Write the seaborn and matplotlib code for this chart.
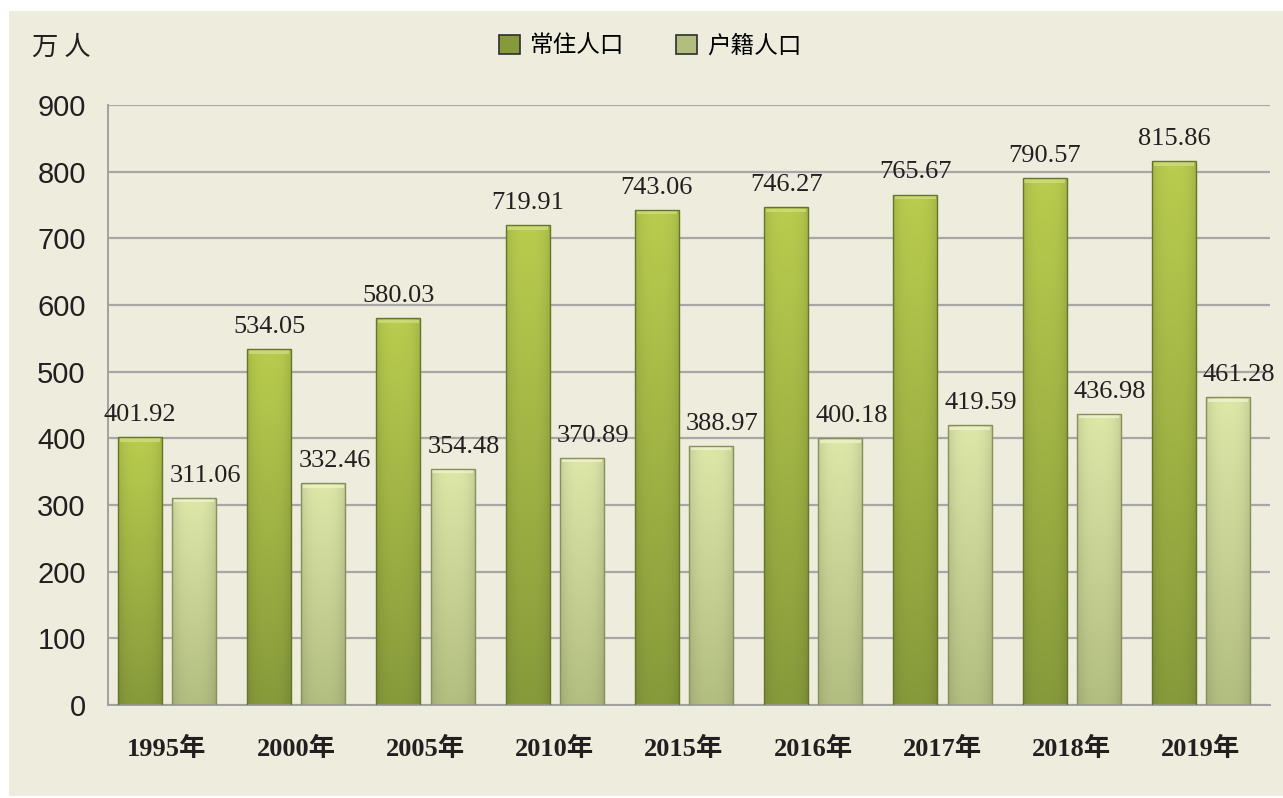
import numpy as np
import pandas as pd
import matplotlib
matplotlib.use("Agg")
import matplotlib.pyplot as plt
import seaborn as sns
from matplotlib.patches import Patch, Rectangle
from matplotlib.colors import to_rgb

# data
years = ["1995年", "2000年", "2005年", "2010年", "2015年", "2016年", "2017年", "2018年", "2019年"]
series = ["常住人口", "户籍人口"]
resident = [401.92, 534.05, 580.03, 719.91, 743.06, 746.27, 765.67, 790.57, 815.86]
registered = [311.06, 332.46, 354.48, 370.89, 388.97, 400.18, 419.59, 436.98, 461.28]
yticks = [0, 100, 200, 300, 400, 500, 600, 700, 800, 900]

df = pd.DataFrame({
    "year": years * 2,
    "series": [series[0]] * len(years) + [series[1]] * len(years),
    "value": resident + registered,
})

bg = "#edecdd"
# (top, bottom, edge, highlight) for each series
shades = {
    series[0]: ("#b9cc4e", "#879a3b", "#65762a", "#d3df84"),
    series[1]: ("#dde7a8", "#b2bd80", "#86905a", "#f1f5d0"),
}

fig = plt.figure(figsize=(12.83, 7.98), dpi=100)
fig.patch.set_facecolor("white")
fig.add_artist(Rectangle((9 / 1283, 2 / 798), 1, 1 - 13 / 798,
                         transform=fig.transFigure, facecolor=bg,
                         edgecolor="none", zorder=-10))

ax = fig.add_axes([108 / 1283, 1 - 705 / 798, 1162 / 1283, 600 / 798])
ax.set_facecolor("none")

sns.barplot(data=df, x="year", y="value", hue="series", hue_order=series,
            palette=[shades[s][1] for s in series], width=0.84, gap=0.19,
            saturation=1, legend=False, ax=ax)

# gradient fill on every bar, clipped to the bar shape
rows, cols = 200, 40
t = np.linspace(0, 1, rows)[:, None, None]
u = np.linspace(0, 1, cols)[None, :, None]
side = 1 - 0.10 * np.abs(2 * u - 1) ** 3
bars = list(ax.patches)
n = len(years)
for i, bar in enumerate(bars):
    s = series[i // n]
    top, bottom, edge, hl = shades[s]
    c_top = np.array(to_rgb(top))[None, None, :]
    c_bot = np.array(to_rgb(bottom))[None, None, :]
    img = np.clip((c_bot + (c_top - c_bot) * t) * side, 0, 1)
    x, y = bar.get_x(), bar.get_y()
    w, h = bar.get_width(), bar.get_height()
    im = ax.imshow(img, extent=[x, x + w, y, y + h], origin="lower",
                   aspect="auto", zorder=2, interpolation="bilinear")
    im.set_clip_path(bar)
    ax.add_patch(Rectangle((x + w * 0.04, y + h - 7), w * 0.92, 5,
                           facecolor=hl, edgecolor="none", alpha=0.7, zorder=3))
    bar.set_facecolor("none")
    bar.set_edgecolor(edge)
    bar.set_linewidth(1.0)
    bar.set_zorder(4)

    v = resident[i % n] if i < n else registered[i % n]
    dx = 0 if i < n else 8
    ax.annotate(f"{v:.2f}", (x + w / 2, y + h), xytext=(dx, 8),
                textcoords="offset points", ha="center", va="bottom",
                fontsize=19, family="Liberation Serif", color="#231f20")

ax.set_xlim(-0.456, 8.534)
ax.set_ylim(0, 900)
ax.set_yticks(yticks)
ax.set_yticklabels([str(v) for v in yticks], fontsize=21,
                   family="Liberation Sans", color="#231f20")
ax.set_xticks(range(n))
ax.set_xticklabels(years, fontsize=19, fontweight="bold",
                   family=["Liberation Serif", "Noto Sans CJK SC"], color="#231f20")
ax.tick_params(axis="y", length=0, pad=16)
ax.tick_params(axis="x", length=0, pad=23)
ax.set_xlabel("")
ax.set_ylabel("")

ax.yaxis.grid(True, color="#a7a7a7", linewidth=1.6)
ax.set_axisbelow(True)
for sp in ["top", "right"]:
    ax.spines[sp].set_visible(False)
for sp in ["left", "bottom"]:
    ax.spines[sp].set_color("#a0a0a0")
    ax.spines[sp].set_linewidth(1.4)

fig.text(32 / 1283, 1 - 47 / 798, "万 人", fontsize=19, va="center",
         family="Noto Sans CJK SC", fontweight="medium", color="#231f20")

handles = [Patch(facecolor=shades[s][1], edgecolor="#2e2e2e", linewidth=1.2) for s in series]
fig.legend(handles, series, loc="center", bbox_to_anchor=(650 / 1283, 1 - 46 / 798),
           ncol=2, frameon=False, handlelength=0.9, handleheight=0.9,
           handletextpad=0.4, columnspacing=2.2,
           prop={"family": "Noto Sans CJK SC", "size": 17})

fig.savefig("out.png", dpi=100, facecolor=fig.get_facecolor())
